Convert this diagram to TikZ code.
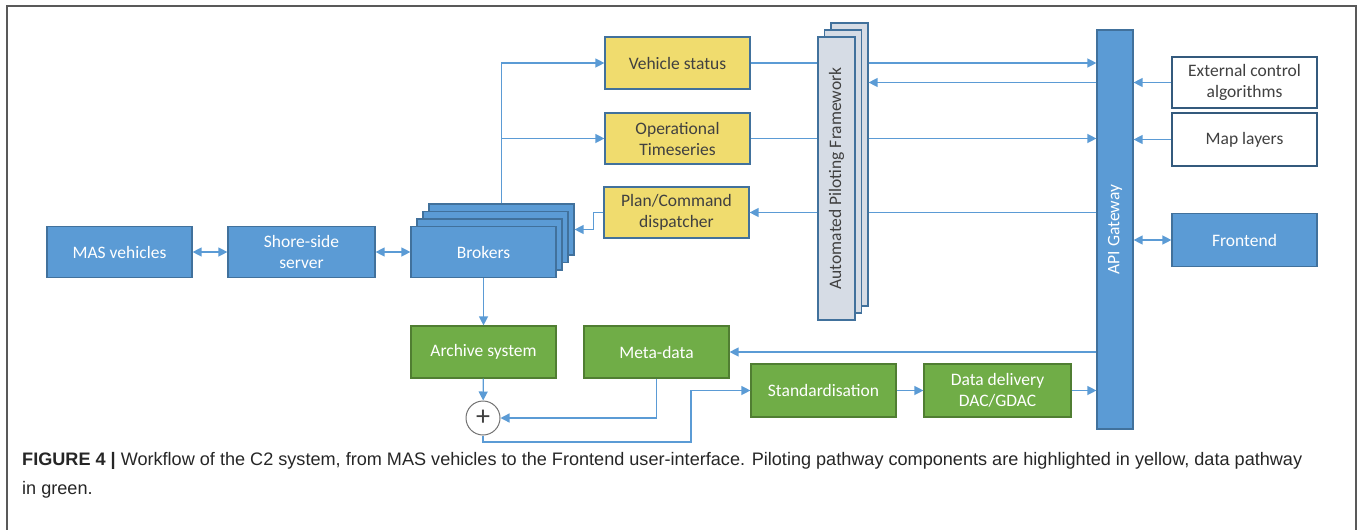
\documentclass[tikz,border=0pt]{standalone}
\usepackage{fontspec}
\usepackage{graphicx}
\setmainfont{Carlito}
\newfontfamily\capfont{Liberation Sans}
\usetikzlibrary{arrows.meta}
\definecolor{boxblue}{HTML}{5B9BD5}
\definecolor{edgeblue}{HTML}{41719C}
\definecolor{boxyellow}{HTML}{F0DC6E}
\definecolor{boxgreen}{HTML}{70AD47}
\definecolor{edgegreen}{HTML}{507E32}
\definecolor{boxgrey}{HTML}{D6DCE5}
\definecolor{textgrey}{HTML}{404040}
\definecolor{linkblue}{HTML}{5B9BD5}
\tikzset{
  box/.style = {rectangle, line width = 1.2pt, minimum width = 145pt, minimum height = 51pt, inner sep = 0pt, align = center, font = \fontsize{17.5}{21}\selectfont},
  bluebox/.style = {box, fill = boxblue, draw = edgeblue, text = white},
  yellowbox/.style = {box, fill = boxyellow, draw = edgeblue, text = textgrey},
  greenbox/.style = {box, fill = boxgreen, draw = edgegreen, text = white},
  whitebox/.style = {box, fill = white, draw = edgeblue!80!black, text = textgrey},
  apflayer/.style = {rectangle, line width = 1.2pt, fill = boxgrey, draw = edgeblue, minimum width = 37pt, minimum height = 283pt, inner sep = 0pt, text = textgrey, font = \fontsize{17.5}{21}\selectfont},
  wire/.style = {draw = linkblue, line width = 1.3pt},
  link/.style = {wire, -{Triangle[length = 9pt, width = 9pt]}},
  twoway/.style = {wire, {Triangle[length = 9pt, width = 9pt]}-{Triangle[length = 9pt, width = 9pt]}}
}
\begin{document}
\begin{tikzpicture}[x = 1pt, y = -1pt]
  \useasboundingbox (0,0) rectangle (1360,530);
  % frame
  \draw [line width = 2pt, black!65] (7,530) -- (7,6) -- (1356,6) -- (1356,530);

  % vehicles to brokers
  \node [bluebox] (mas) at (119.5,252) {MAS vehicles};
  \node [bluebox, minimum width = 147pt] (shore) at (301.5,252) {Shore-side\\server};
  \foreach \k in {3,2,1}
    \node [bluebox, xshift = \k*6pt, yshift = \k*7.5pt] (brk\k) at (483.5,252) {};
  \node [bluebox] (brk) at (483.5,252) {Brokers};

  % piloting pathway
  \node [yellowbox, minimum height = 52pt] (vstat) at (677.5,63) {Vehicle status};
  \node [yellowbox] (opts) at (677.5,138.5) {Operational\\Timeseries};
  \node [yellowbox] (plan) at (676.5,212.5) {Plan/Command\\dispatcher};
  \foreach \k in {2,1}
    \node [apflayer, xshift = \k*6.5pt, yshift = \k*7pt] (apf\k) at (836.5,178.5) {};
  \node [apflayer] (apf) at (836.5,178.5) {\rotatebox{90}{Automated Piloting Framework}};

  % gateway and clients
  \node [bluebox, minimum width = 36pt, minimum height = 399pt] (api) at (1115,229.5) {\rotatebox{90}{API Gateway}};
  \node [whitebox] (ext) at (1244.5,82.5) {External control\\algorithms};
  \node [whitebox, minimum height = 53pt] (map) at (1244.5,139.5) {Map layers};
  \node [bluebox, minimum height = 53pt] (front) at (1244.5,240) {Frontend};

  % data pathway
  \node [greenbox, minimum height = 52pt] (arch) at (483.5,352) {Archive system};
  \node [greenbox, minimum height = 52pt] (meta) at (656.5,352) {Meta-data};
  \node [greenbox, minimum height = 53pt] (std) at (823.5,390.5) {Standardisation};
  \node [greenbox, minimum width = 147pt, minimum height = 53pt] (dd) at (997.5,390.5) {Data delivery\\DAC/GDAC};
  \node [circle, draw = black!55, line width = 1pt, fill = white, minimum size = 34pt, inner sep = 0pt, text = textgrey, font = \fontsize{28}{28}\selectfont] (plus) at (483,418) {+};

  % connectors
  \draw [twoway] (mas) -- (shore);
  \draw [twoway] (shore) -- (brk);
  \draw [link] (brk3.north) |- (vstat.west);
  \draw [link] (brk3.north |- opts.west) -- (opts.west);
  \draw [link] (plan.west) -- ++(-10,0) |- (brk3.east);
  \draw [wire] (vstat.east) -- (apf.west |- vstat.east);
  \draw [link] (apf2.east |- vstat.east) -- (api.west |- vstat.east);
  \draw [link] (api.west |- ext.west) -- (apf2.east |- ext.west);
  \draw [wire] (opts.east) -- (apf.west |- opts.east);
  \draw [link] (apf2.east |- opts.east) -- (api.west |- opts.east);
  \draw [wire] (api.west |- plan.east) -- (apf2.east |- plan.east);
  \draw [link] (apf.west |- plan.east) -- (plan.east);
  \draw [link] (ext.west) -- (api.east |- ext.west);
  \draw [link] (map.west) -- (api.east |- map.west);
  \draw [twoway] (api.east |- front.west) -- (front.west);
  \draw [link] (api.west |- meta.east) -- (meta.east);
  \draw [link] (brk) -- (arch);
  \draw [link] (arch) -- (plus);
  \draw [link] (meta.south) |- (plus.east);
  \coordinate (turn) at (691,442);
  \draw [link] (plus.south) |- (turn) |- (std.west);
  \draw [link] (std) -- (dd);
  \draw [link] (dd) -- (api.west |- dd.east);

  % caption
  \node [anchor = base west, inner sep = 0pt, text = black!85, font = \capfont\fontsize{18.1}{21}\selectfont] (cap1) at (22,465) {\textbf{FIGURE 4 |} Workflow of the C2 system, from MAS vehicles to the Frontend user-interface. Piloting pathway components are highlighted in yellow, data pathway};
  \node [anchor = base west, inner sep = 0pt, text = black!85, font = \capfont\fontsize{18.1}{21}\selectfont] (cap2) at (22,494) {in green.};
\end{tikzpicture}
\end{document}
